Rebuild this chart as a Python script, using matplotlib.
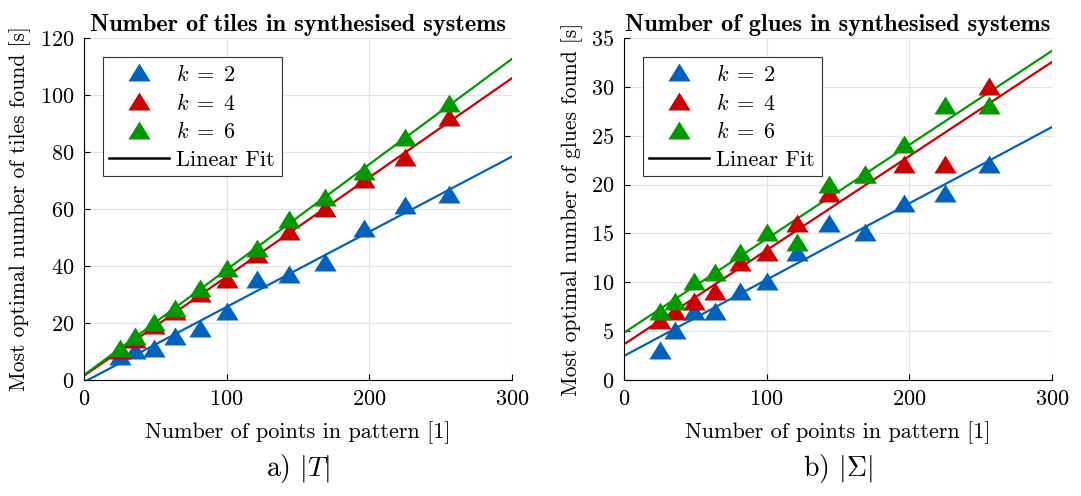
import matplotlib
matplotlib.use("Agg")
import matplotlib.pyplot as plt
import numpy as np

plt.rcParams['font.family'] = ['cmr10', 'DejaVu Serif']
plt.rcParams['mathtext.fontset'] = 'cm'
plt.rcParams['axes.formatter.use_mathtext'] = True

# points in pattern (5^2 .. 16^2)
points = [25, 36, 49, 64, 81, 100, 121, 144, 169, 196, 225, 256]

# number of tiles
tiles_k2 = [8, 10, 11, 15, 18, 24, 35, 37, 41, 53, 61, 65]
tiles_k4 = [10, 14, 19, 24, 30, 35, 44, 52, 60, 70, 78, 92]
tiles_k6 = [11, 15, 20, 25, 32, 39, 46, 56, 64, 73, 85, 97]

# number of glues
glues_k2 = [3, 5, 7, 7, 9, 10, 13, 16, 15, 18, 19, 22]
glues_k4 = [6, 7, 8, 9, 12, 13, 16, 19, 21, 22, 22, 30]
glues_k6 = [7, 8, 10, 11, 13, 15, 14, 20, 21, 24, 28, 28]

labels = [r'$k\;=\;2$', r'$k\;=\;4$', r'$k\;=\;6$']
colors = ['#0062bd', '#cc0000', '#009900']

# wide, flat triangle like matlab's '^'
tri = [(-1, -0.72), (1, -0.72), (0, 0.9), (-1, -0.72)]

fig = plt.figure(figsize=(10.81, 4.96), dpi=100)
ax1 = fig.add_axes([0.0777, 0.2339, 0.396, 0.6895])
ax2 = fig.add_axes([0.5772, 0.2339, 0.396, 0.6895])


def panel(ax, series, ymax, ystep, title, ylabel, caption):
    xfit = np.array([0, 300])
    for ys, c, lab in zip(series, colors, labels):
        p = np.polyfit(points, ys, 1)
        ax.plot(xfit, np.polyval(p, xfit), '-', color=c, lw=1.6, zorder=2)
        ax.plot(points, ys, marker=tri, color=c, ms=16, mec=c, mew=0,
                ls='none', label=lab, zorder=3)
    ax.plot([], [], 'k-', lw=1.8, label='Linear Fit')
    ax.set_xlim(0, 300)
    ax.set_ylim(0, ymax)
    ax.set_xticks([0, 100, 200, 300])
    ax.set_yticks(np.arange(0, ymax + 1, ystep))
    ax.grid(True, color='#e3e3e3', lw=0.9)
    ax.set_axisbelow(True)
    for s in ['top', 'right']:
        ax.spines[s].set_visible(False)
    ax.tick_params(direction='in', labelsize=16, length=4, pad=7)
    ax.set_title(title, fontfamily='cmb10', fontsize=17.5, pad=5)
    ax.set_xlabel('Number of points in pattern [1]', fontsize=16, labelpad=9)
    ax.set_ylabel(ylabel, fontsize=15.5, labelpad=6)
    leg = ax.legend(loc='upper left', bbox_to_anchor=(0.044, 0.944), fontsize=16,
                    fancybox=False, edgecolor='#333333', framealpha=1,
                    handlelength=2.7, handletextpad=0.3, borderpad=0.3,
                    labelspacing=0.35, borderaxespad=0)
    leg.get_frame().set_linewidth(0.8)
    ax.text(0.5, -0.26, caption, transform=ax.transAxes, ha='center', va='center',
            fontsize=20)


panel(ax1, [tiles_k2, tiles_k4, tiles_k6], 120, 20,
      'Number of tiles in synthesised systems',
      'Most optimal number of tiles found [s]', r'a) $|T|$')
panel(ax2, [glues_k2, glues_k4, glues_k6], 35, 5,
      'Number of glues in synthesised systems',
      'Most optimal number of glues found [s]', r'b) $|\Sigma|$')

fig.savefig('out.png', dpi=100)
